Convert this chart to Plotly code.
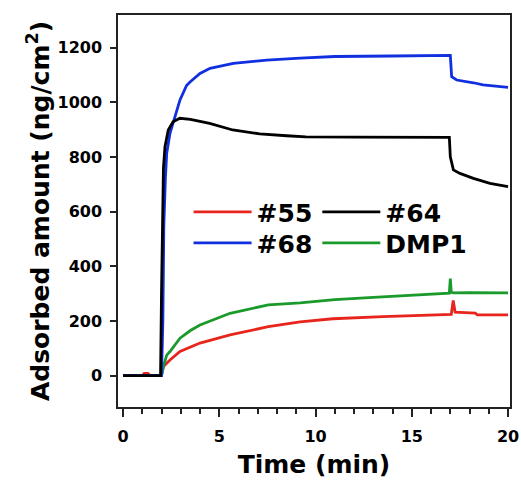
import plotly.graph_objects as go

# ---- data ----
t55 = [0, 1.0, 1.1, 1.3, 1.4, 2.0, 2.1, 2.44, 2.96, 4.0, 5.56, 7.55, 9.2, 10.9, 13.5, 16.1, 17.05, 17.15, 17.25, 18.3, 18.4, 20]
v55 = [0, 0, 8, 8, 0, 0, 33, 57, 88, 119, 149, 179, 197, 208, 216, 222, 224, 275, 232, 229, 222, 222]

t64 = [0, 1.95, 2.0, 2.05, 2.1, 2.18, 2.35, 2.6, 2.95, 3.5, 4.0, 4.5, 5.7, 7.1, 8.5, 9.5, 12, 14, 16.95, 17.0, 17.16, 17.5, 18.2, 19.06, 20]
v64 = [0, 0, 300, 620, 760, 838, 899, 929, 942, 938, 930, 923, 899, 885, 878, 874, 873, 872, 872, 801, 753, 740, 722, 704, 692]

t68 = [0, 2.0, 2.07, 2.12, 2.2, 2.27, 2.44, 2.7, 2.96, 3.3, 3.48, 4.0, 4.52, 5.73, 7.46, 9.2, 11, 14, 17.0, 17.07, 17.33, 18.2, 18.7, 20]
v68 = [0, 0, 200, 550, 720, 814, 887, 948, 1009, 1062, 1075, 1106, 1125, 1143, 1155, 1162, 1168, 1170, 1172, 1094, 1082, 1072, 1064, 1055]

tdmp = [0, 2.0, 2.1, 2.27, 2.44, 2.96, 3.5, 4.0, 5.56, 7.55, 9.2, 11, 13, 15, 16.5, 16.95, 17.0, 17.05, 17.15, 18, 20]
vdmp = [0, 0, 33, 75, 88, 137, 165, 185, 228, 259, 266, 278, 286, 293, 298, 302, 355, 305, 303, 304, 303]

names = ["#55", "#64", "#68", "DMP1"]
colors = ["#e8251c", "#000000", "#1030e0", "#1a9a2a"]
x_ticks = [0, 5, 10, 15, 20]
y_ticks = [0, 200, 400, 600, 800, 1000, 1200]

FONT = "DejaVu Sans"

fig = go.Figure()
series = [(t55, v55, "legend"), (t64, v64, "legend"), (t68, v68, "legend2"), (tdmp, vdmp, "legend2")]
# draw order: green/red under black/blue
for idx in [0, 3, 2, 1]:
    t, v, lg = series[idx]
    fig.add_trace(go.Scatter(x=t, y=v, mode="lines", name=names[idx],
                             line=dict(color=colors[idx], width=2.8),
                             legend=lg, legendrank=idx))

leg_common = dict(orientation="h", xanchor="left", yanchor="middle",
                  bgcolor="rgba(0,0,0,0)", borderwidth=0,
                  font=dict(family=FONT, size=25, color="black", weight="bold"),
                  entrywidth=0, entrywidthmode="pixels", itemwidth=58,
                  traceorder="normal", tracegroupgap=0)
fig.update_layout(
    width=521, height=484,
    margin=dict(l=118, r=11, t=15, b=77),
    paper_bgcolor="white", plot_bgcolor="white",
    showlegend=True,
    legend=dict(x=0.18, y=0.497, **leg_common),
    legend2=dict(x=0.18, y=0.418, **leg_common),
    font=dict(family=FONT, color="black"),
)
fig.update_xaxes(
    range=[-0.26, 20.1], tickvals=x_ticks, ticks="outside", ticklen=8, tickwidth=1.5,
    minor=dict(dtick=1, ticks="outside", ticklen=5, tickwidth=1.5, tickcolor="#222"),
    showline=True, linecolor="#222", linewidth=1.5, mirror=True,
    tickcolor="#222", showgrid=False, zeroline=False, automargin=False,
    ticklabelstandoff=6, ticklabeloverflow="allow",
    tickfont=dict(family=FONT, size=16, color="black", weight="bold"),
    title=dict(text="Time (min)", font=dict(family=FONT, size=25, color="black", weight="bold"), standoff=11),
)
fig.update_yaxes(
    range=[-115, 1320], tickvals=y_ticks, ticks="outside", ticklen=6, tickwidth=1.5,
    showline=True, linecolor="#222", linewidth=1.5, mirror=True,
    tickcolor="#222", showgrid=False, zeroline=False, automargin=False,
    ticklabelstandoff=5, ticklabeloverflow="allow",
    tickfont=dict(family=FONT, size=16, color="black", weight="bold"),
    title=dict(text="Adsorbed amount (ng/cm<sup>2</sup>)", font=dict(family=FONT, size=25, color="black", weight="bold"), standoff=1),
)
# remove the browser's default 8px body margin so the figure sits at the page corner
fig.write_html("out.html", config={"displayModeBar": False},
               post_script="document.body.style.margin='0';document.body.style.overflow='hidden';")
